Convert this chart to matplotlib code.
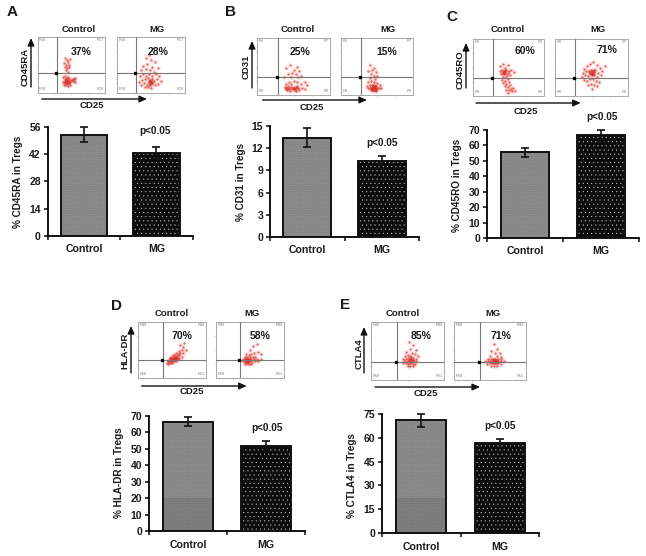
import matplotlib
matplotlib.use('Agg')
import matplotlib.pyplot as plt

plt.rcParams['font.family'] = ['Liberation Sans', 'DejaVu Sans']
plt.rcParams['font.weight'] = 'bold'
plt.rcParams['hatch.linewidth'] = 0.2

W, H = 646, 556

groups = ['Control', 'MG']
pvalue = 'p<0.05'

# bar values
cd45ra_mean = [52, 42.5]
cd45ra_err = [3.6, 3]
cd31_mean = [13.4, 10.3]
cd31_err = [1.3, 0.6]
cd45ro_mean = [55.5, 66.5]
cd45ro_err = [3, 3.5]
hladr_mean = [66.5, 52]
hladr_err = [2.7, 3]
ctla4_mean = [71, 56.5]
ctla4_err = [4, 3]

cd45ra_ticks = [0, 14, 28, 42, 56]
cd31_ticks = [0, 3, 6, 9, 12, 15]
cd45ro_ticks = [0, 10, 20, 30, 40, 50, 60, 70]
hladr_ticks = [0, 10, 20, 30, 40, 50, 60, 70]
ctla4_ticks = [0, 15, 30, 45, 60, 75]

# percentages printed on the flow plots
cd45ra_pct = ['37%', '28%']
cd31_pct = ['25%', '15%']
cd45ro_pct = ['60%', '71%']
hladr_pct = ['70%', '58%']
ctla4_pct = ['85%', '71%']

# flow cytometry dots, (x, y) in percent of the plot box
a_ctrl = [(41, 62), (43, 58), (45, 55), (42, 50), (46, 50), (40, 46), (44, 44), (47, 47), (42, 40), (45, 38),
          (48, 60), (39, 53), (38, 28), (41, 31), (43, 26), (45, 29), (47, 24), (40, 22), (42, 20), (44, 18),
          (46, 21), (48, 19), (50, 23), (52, 22), (54, 24), (56, 26), (39, 15), (42, 14), (45, 13), (48, 15),
          (41, 25), (44, 23), (43, 17), (46, 17), (40, 18), (55, 20), (37, 20), (43, 22), (45, 20), (44, 21),
          (42, 24), (52, 24), (53, 23), (41, 19)]
a_mg = [(42, 62), (47, 68), (50, 58), (38, 48), (44, 52), (52, 47), (56, 55), (36, 40), (42, 42), (48, 41),
        (54, 38), (60, 44), (34, 30), (38, 33), (43, 31), (47, 34), (52, 30), (57, 33), (62, 30), (33, 20),
        (37, 23), (41, 24), (45, 26), (48, 23), (51, 25), (55, 21), (59, 24), (64, 22), (36, 14), (40, 17),
        (44, 15), (47, 18), (49, 15), (50, 19), (52, 17), (56, 14), (60, 16), (46, 10), (50, 9), (41, 10),
        (48, 20), (49, 21), (50, 22), (51, 18), (48, 16), (47, 22)]
b_ctrl = [(40, 48), (45, 52), (50, 44), (55, 50), (58, 42), (48, 38), (53, 36), (42, 36), (60, 34), (37, 32),
          (46, 31), (56, 32), (39, 20), (43, 23), (47, 19), (51, 24), (55, 22), (60, 20), (65, 23), (69, 18),
          (38, 14), (40, 11), (42, 15), (44, 12), (46, 14), (48, 10), (50, 13), (52, 11), (54, 15), (56, 12),
          (58, 9), (62, 12), (66, 11), (41, 8), (45, 7), (53, 7), (39, 12), (41, 13), (51, 12), (53, 14),
          (55, 13), (43, 10), (49, 12), (52, 9)]
b_mg = [(40, 52), (43, 44), (46, 48), (48, 40), (42, 36), (38, 42), (45, 33), (50, 34), (40, 30), (47, 28),
        (38, 22), (42, 24), (46, 22), (50, 21), (54, 18), (36, 16), (40, 18), (43, 17), (45, 18), (47, 16),
        (49, 15), (52, 13), (56, 12), (38, 12), (40, 12), (42, 13), (43, 11), (44, 13), (45, 12), (46, 11),
        (47, 13), (48, 11), (49, 10), (50, 12), (41, 9), (43, 8), (45, 9), (47, 8), (49, 7), (44, 15),
        (46, 14), (45, 14), (44, 11), (46, 12), (45, 10), (44, 12), (46, 13), (45, 11), (43, 13), (47, 11)]
c_ctrl = [(38, 52), (42, 56), (46, 50), (50, 54), (54, 46), (58, 42), (38, 44), (41, 46), (43, 42), (45, 44),
          (47, 46), (49, 41), (51, 44), (40, 38), (44, 38), (46, 40), (48, 37), (52, 36), (42, 41), (44, 44),
          (46, 43), (43, 34), (47, 33), (41, 28), (45, 27), (49, 29), (43, 23), (47, 21), (51, 24), (45, 17),
          (49, 16), (53, 19), (57, 14), (47, 11), (51, 10), (55, 8), (59, 9), (50, 5), (54, 13), (44, 40)]
c_mg = [(40, 48), (44, 52), (48, 56), (52, 60), (57, 54), (62, 50), (68, 52), (38, 40), (42, 44), (46, 42),
        (49, 46), (51, 44), (53, 42), (55, 46), (59, 41), (65, 44), (37, 34), (41, 36), (45, 35), (48, 38),
        (50, 40), (52, 38), (54, 36), (58, 34), (63, 36), (40, 28), (44, 27), (48, 29), (52, 30), (56, 27),
        (60, 25), (45, 20), (49, 21), (53, 19), (57, 17), (50, 12), (51, 41), (50, 43), (52, 41), (49, 40),
        (53, 45), (51, 39), (50, 37), (47, 44)]
d_ctrl = [(68, 62), (66, 55), (62, 58), (70, 50), (64, 50), (60, 48), (66, 44), (62, 44), (58, 43), (55, 45),
          (60, 40), (57, 39), (54, 40), (51, 41), (64, 38), (60, 36), (57, 36), (54, 36), (52, 37), (49, 37),
          (47, 35), (58, 33), (55, 33), (53, 34), (51, 34), (49, 33), (46, 32), (44, 30), (55, 30), (52, 31),
          (50, 31), (48, 30), (46, 29), (43, 27), (50, 27), (47, 26), (44, 25), (54, 35), (52, 35), (50, 35),
          (53, 32), (51, 32), (56, 37), (49, 31), (55, 36), (48, 34)]
d_mg = [(60, 60), (54, 56), (50, 50), (62, 46), (56, 44), (66, 42), (52, 42), (48, 40), (44, 42), (58, 38),
        (54, 38), (50, 37), (46, 37), (42, 38), (66, 34), (60, 34), (56, 33), (52, 34), (49, 34), (47, 34),
        (45, 33), (43, 33), (41, 34), (62, 30), (57, 30), (53, 29), (50, 30), (48, 30), (46, 31), (44, 30),
        (42, 29), (40, 30), (38, 32), (52, 25), (48, 25), (45, 26), (42, 25), (47, 32), (46, 33), (48, 32),
        (45, 29), (47, 28), (49, 32), (44, 32), (46, 28)]
e_ctrl = [(52, 66), (58, 60), (54, 54), (62, 52), (48, 48), (56, 47), (46, 42), (50, 43), (53, 42), (60, 44),
          (64, 42), (44, 37), (48, 37), (51, 38), (54, 36), (57, 38), (62, 37), (45, 33), (49, 33), (52, 33),
          (55, 33), (58, 33), (61, 32), (44, 29), (48, 29), (51, 28), (54, 29), (57, 28), (60, 28), (50, 24),
          (54, 24), (57, 25), (53, 37), (55, 37), (56, 35), (54, 31), (56, 31), (57, 35), (52, 35), (55, 40)]
e_mg = [(56, 62), (60, 54), (52, 50), (64, 46), (57, 46), (50, 42), (60, 41), (66, 40), (47, 36), (52, 37),
        (55, 37), (58, 37), (61, 37), (65, 36), (44, 32), (48, 33), (51, 33), (54, 33), (56, 33), (58, 33),
        (60, 33), (62, 33), (66, 32), (70, 33), (46, 28), (50, 29), (53, 29), (55, 29), (57, 30), (59, 29),
        (61, 29), (65, 28), (52, 25), (56, 24), (60, 25), (55, 35), (57, 35), (59, 35), (56, 31), (58, 31),
        (60, 31), (57, 33), (59, 32), (55, 32)]

# layout in pixels of the reference
panels = [
    dict(letter='A', letter_xy=(12, 12), marker='CD45RA', mean=cd45ra_mean, err=cd45ra_err, ticks=cd45ra_ticks,
         pct=cd45ra_pct, dots=[a_ctrl, a_mg], regions=['R16', 'R17', 'R18', 'R19'],
         bar_x=(47.7, 192.7), bar_y=(126.7, 236), p_xy=(155, 131), ylab_xy=(18, 182), lab_y=249,
         box1=(37.7, 105), box2=(117, 185), box_y=(36.7, 93), gate_x=28, gate_y=36,
         head_y=30, pct_xy=[(81, 52), (158, 52)], col_x=[79, 157],
         varrow=(31, 87, 38), harrow=(99, 41.7, 147), cd25=(92, 106), ymark=(25, 67)),
    dict(letter='B', letter_xy=(230, 12), marker='CD31', mean=cd31_mean, err=cd31_err, ticks=cd31_ticks,
         pct=cd31_pct, dots=[b_ctrl, b_mg], regions=['R6', 'R7', 'R8', 'R9'],
         bar_x=(270, 419), bar_y=(126, 237), p_xy=(382, 143), ylab_xy=(241, 182), lab_y=250,
         box1=(257.3, 330), box2=(341, 413.3), box_y=(38, 95), gate_x=28, gate_y=32,
         head_y=30, pct_xy=[(300, 52), (387, 52)], col_x=[298, 388],
         varrow=(252, 88, 41), harrow=(100, 262.7, 367), cd25=(312, 107), ymark=(246, 67)),
    dict(letter='C', letter_xy=(452, 17), marker='CD45RO', mean=cd45ro_mean, err=cd45ro_err, ticks=cd45ro_ticks,
         pct=cd45ro_pct, dots=[c_ctrl, c_mg], regions=['R6', 'R7', 'R8', 'R9'],
         bar_x=(487, 639), bar_y=(130, 238), p_xy=(602, 117), ylab_xy=(457, 185), lab_y=251,
         box1=(472.7, 544), box2=(555, 628), box_y=(39, 96), gate_x=28, gate_y=32,
         head_y=30, pct_xy=[(525, 51), (607, 50)], col_x=[508, 598],
         varrow=(466, 88, 43), harrow=(103, 476, 580.7), cd25=(526, 111), ymark=(460, 70)),
    dict(letter='D', letter_xy=(116, 306), marker='HLA-DR', mean=hladr_mean, err=hladr_err, ticks=hladr_ticks,
         pct=hladr_pct, dots=[d_ctrl, d_mg], regions=['R49', 'R49', 'R50', 'R51'],
         bar_x=(149, 305), bar_y=(416, 531), p_xy=(267, 428), ylab_xy=(119, 473), lab_y=545,
         box1=(138.3, 206), box2=(216, 284), box_y=(321.7, 378), gate_x=36, gate_y=32,
         head_y=313, pct_xy=[(182, 336), (260, 336)], col_x=[172, 252],
         varrow=(131, 373, 326), harrow=(386, 141.7, 246.7), cd25=(192, 392), ymark=(125, 351), band=20),
    dict(letter='E', letter_xy=(345, 305), marker='CTLA4', mean=ctla4_mean, err=ctla4_err, ticks=ctla4_ticks,
         pct=ctla4_pct, dots=[e_ctrl, e_mg], regions=['R49', 'R49', 'R50', 'R51'],
         bar_x=(382, 539), bar_y=(414, 533), p_xy=(500, 426), ylab_xy=(352, 475), lab_y=547,
         box1=(371, 444), box2=(453.7, 525.7), box_y=(322, 380), gate_x=36, gate_y=31,
         head_y=313, pct_xy=[(421, 336), (501, 336)], col_x=[403, 493],
         varrow=(364, 373, 327), harrow=(387, 375, 480), cd25=(426, 393), ymark=(359, 354), band=22),
]

fig = plt.figure(figsize=(W / 100, H / 100), dpi=100, facecolor='white')


def make_axes(x0, x1, ytop, ybot):
    return fig.add_axes([x0 / W, 1 - ybot / H, (x1 - x0) / W, (ybot - ytop) / H])


def put(x, y, s, size=7.2, **kw):
    fig.text(x / W, 1 - y / H, s, fontsize=size, ha='center', va='center', color='#1a1a1a', **kw)


def arrow(x0, y0, x1, y1):
    fig.add_artist(plt.Annotation('', xy=(x1 / W, 1 - y1 / H), xytext=(x0 / W, 1 - y0 / H),
                                  xycoords='figure fraction', textcoords='figure fraction',
                                  arrowprops=dict(arrowstyle='-|>,head_width=0.2,head_length=0.45',
                                                  color='#111111', lw=1, shrinkA=0, shrinkB=0)))


def flow_plot(x0, x1, ytop, ybot, dots, gx, gy, regions):
    ax = make_axes(x0, x1, ytop, ybot)
    ax.set_xlim(0, 100)
    ax.set_ylim(0, 100)
    xs = [d[0] for d in dots]
    ys = [d[1] for d in dots]
    # pink halo round the dots, the reference is a blurred scan
    ax.scatter(xs, ys, s=16, color='#e8605a', alpha=0.1, linewidths=0, zorder=2)
    ax.scatter(xs, ys, s=2.8, color='#d8322a', alpha=0.7, linewidths=0, zorder=2)
    ax.axvline(gx, color='#777777', lw=0.8, zorder=3)
    ax.axhline(gy, color='#777777', lw=0.8, zorder=3)
    ax.plot([gx - 1.5], [gy], 's', ms=1.4, color='black', zorder=4)
    for s in ax.spines.values():
        s.set_color('#a8a8a8')
        s.set_linewidth(0.7)
    ax.set_xticks([25, 50, 75])
    ax.set_yticks([25, 50, 75])
    ax.tick_params(length=1, width=0.4, color='#777777', labelbottom=False, labelleft=False)
    ax.text(2, 94, regions[0], fontsize=2.8, color='#777777', va='center', fontweight='normal')
    ax.text(98, 94, regions[1], fontsize=2.8, color='#777777', va='center', ha='right', fontweight='normal')
    ax.text(2, 7, regions[2], fontsize=2.8, color='#777777', va='center', fontweight='normal')
    ax.text(98, 7, regions[3], fontsize=2.8, color='#777777', va='center', ha='right', fontweight='normal')


def bar_plot(p):
    ax = make_axes(p['bar_x'][0], p['bar_x'][1], p['bar_y'][0], p['bar_y'][1])
    pos = [0, 1]
    ax.set_xlim(-0.5, 1.5)
    ax.set_ylim(0, p['ticks'][-1])
    ax.bar(pos[0], p['mean'][0], 0.64, color='#868686', hatch='.......', edgecolor='#a0a0a0', lw=0)
    if 'band' in p:
        ax.bar(pos[0], p['band'], 0.64, color='#7a7a7a', hatch='.......', edgecolor='#949494', lw=0)
    ax.bar(pos[1], p['mean'][1], 0.64, color='#0c0c0c', hatch='....', edgecolor='#e0e0e0', lw=0)
    ax.bar(pos, p['mean'], 0.64, fill=False, edgecolor='#111111', lw=1.4, zorder=3)
    ax.errorbar(pos, p['mean'], yerr=p['err'], fmt='none', ecolor='#111111', elinewidth=1.2,
                capsize=3.2, capthick=1.2, zorder=4, clip_on=False)
    ax.spines['top'].set_visible(False)
    ax.spines['right'].set_visible(False)
    ax.spines['left'].set_linewidth(1.3)
    ax.spines['bottom'].set_linewidth(1.3)
    ax.patch.set_alpha(0)
    ax.set_yticks(p['ticks'])
    ax.set_xticks([-0.5, 0.5, 1.5])
    ax.set_xticklabels([])
    ax.tick_params(length=3, width=1.2, labelsize=7.5, pad=2, colors='#1a1a1a')
    for lab in ax.get_yticklabels():
        lab.set_fontweight('bold')


for p in panels:
    put(p['letter_xy'][0], p['letter_xy'][1], p['letter'], size=11)
    bar_plot(p)
    put(p['ylab_xy'][0], p['ylab_xy'][1], '% ' + p['marker'] + ' in Tregs', rotation=90)
    put(p['p_xy'][0], p['p_xy'][1], pvalue)
    # group names under the bars
    x0, x1 = p['bar_x']
    for i, name in enumerate(groups):
        put(x0 + (x1 - x0) * (i + 0.5) / 2, p['lab_y'], name, size=7.6)

    gx, gy = p['gate_x'], p['gate_y']
    flow_plot(p['box1'][0], p['box1'][1], p['box_y'][0], p['box_y'][1], p['dots'][0], gx, gy, p['regions'])
    flow_plot(p['box2'][0], p['box2'][1], p['box_y'][0], p['box_y'][1], p['dots'][1], gx, gy, p['regions'])
    for i, name in enumerate(groups):
        put(p['col_x'][i], p['head_y'], name, size=6.8)
        put(p['pct_xy'][i][0], p['pct_xy'][i][1], p['pct'][i], size=7.5)
    va = p['varrow']
    arrow(va[0], va[1], va[0], va[2])
    ha_ = p['harrow']
    arrow(ha_[1], ha_[0], ha_[2], ha_[0])
    put(p['cd25'][0], p['cd25'][1], 'CD25', size=6.8)
    put(p['ymark'][0], p['ymark'][1], p['marker'], size=6.8, rotation=90)

fig.savefig('out.png', dpi=100)
